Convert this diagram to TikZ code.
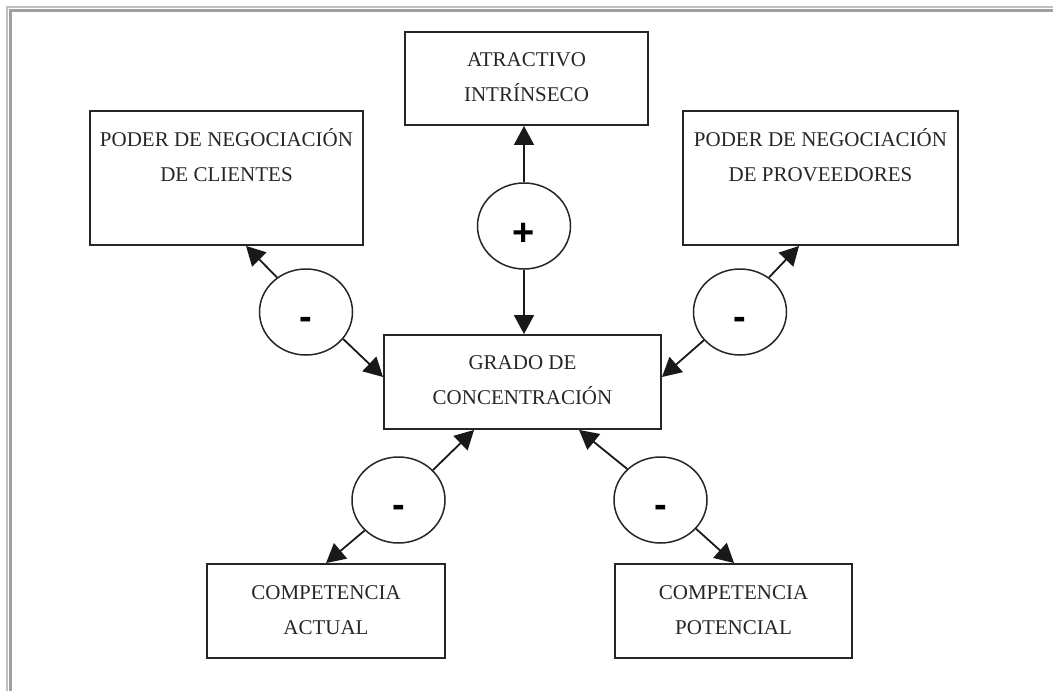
\documentclass[tikz,border=0pt]{standalone}
\usepackage{fontspec}
\setmainfont{Liberation Serif}
\newfontfamily\signfont{Liberation Sans}
\usetikzlibrary{arrows.meta,shapes.geometric}

% two centred lines; the baseline is that of the first line
\newcommand\twolines[2]{\begin{tabular}[t]{@{}c@{}}#1\\#2\end{tabular}}

\begin{document}
\begin{tikzpicture}[x=1pt,y=-1pt,
  box/.style={draw=black!85, line width=1.9pt, rectangle, inner sep=0pt},
  lbl/.style={inner sep=0pt, anchor=base, text=black!85,
    font=\fontsize{21}{35}\selectfont},
  sign/.style={draw=black!85, line width=1.5pt, ellipse, inner sep=0pt,
    minimum width=93pt, minimum height=86pt, text depth=0pt,
    font=\signfont\bfseries\fontsize{38}{38}\selectfont},
  minus/.style={sign, text height=34pt},
  plus/.style={sign, text height=39pt},
  arr/.style={line width=1.8pt, draw=black!90,
    -{Triangle[length=19pt,width=20pt]}}]
\useasboundingbox (0,0) rectangle (1053,691);

% page frame
\draw[gray!50, line width=1.2pt] (7,691) -- (7,7) -- (1053,7);
\draw[gray!75, line width=2.6pt] (10.5,691) -- (10.5,10.5) -- (1053,10.5);

% boxes
\node[box, minimum width=243pt, minimum height=93pt] (atr) at (526.5,78.5) {};
\node[box, minimum width=273pt, minimum height=134pt] (cli) at (226.5,178) {};
\node[box, minimum width=275pt, minimum height=134pt] (pro) at (820.5,178) {};
\node[box, minimum width=277pt, minimum height=94pt] (gra) at (522.5,382) {};
\node[box, minimum width=238pt, minimum height=94pt] (act) at (326,611) {};
\node[box, minimum width=237pt, minimum height=94pt] (pot) at (733.5,611) {};

% box texts
\node[lbl] (atrt) at ([yshift=-35pt]atr.north) {\twolines{ATRACTIVO}{INTRÍNSECO}};
\node[lbl] (clit) at ([yshift=-36pt]cli.north) {\twolines{PODER DE NEGOCIACIÓN}{DE CLIENTES}};
\node[lbl] (prot) at ([yshift=-36pt]pro.north) {\twolines{PODER DE NEGOCIACIÓN}{DE PROVEEDORES}};
\node[lbl] (grat) at ([yshift=-35pt]gra.north) {\twolines{GRADO DE}{CONCENTRACIÓN}};
\node[lbl] (actt) at ([yshift=-36pt]act.north) {\twolines{COMPETENCIA}{ACTUAL}};
\node[lbl] (pott) at ([yshift=-36pt]pot.north) {\twolines{COMPETENCIA}{POTENCIAL}};

% sign circles
\node[plus]  (cp) at (524,226) {+};
\node[minus] (cl) at (306,312) {-};
\node[minus] (cr) at (740,312) {-};
\node[minus] (bl) at (398.5,500) {-};
\node[minus] (br) at (660.5,500) {-};

% connectors
\draw[arr] (cp.north) -- (cp.north |- atr.south);
\draw[arr] (cp.south) -- (cp.south |- gra.north);

\draw[arr] (cl.130) -- ([xshift=157pt]cli.south west);
\draw[arr] (cl.-36) -- ([yshift=5pt]gra.west);

\draw[arr] (cr.50) -- ([xshift=117pt]pro.south west);
\draw[arr] (cr.-142) -- ([yshift=5pt]gra.east);

\draw[arr] (bl.41) -- ([xshift=91pt]gra.south west);
\draw[arr] (bl.222) -- ([xshift=120pt]act.north west);

\draw[arr] (br.137) -- ([xshift=196pt]gra.south west);
\draw[arr] (br.-39) -- ([xshift=120pt]pot.north west);
\end{tikzpicture}
\end{document}
